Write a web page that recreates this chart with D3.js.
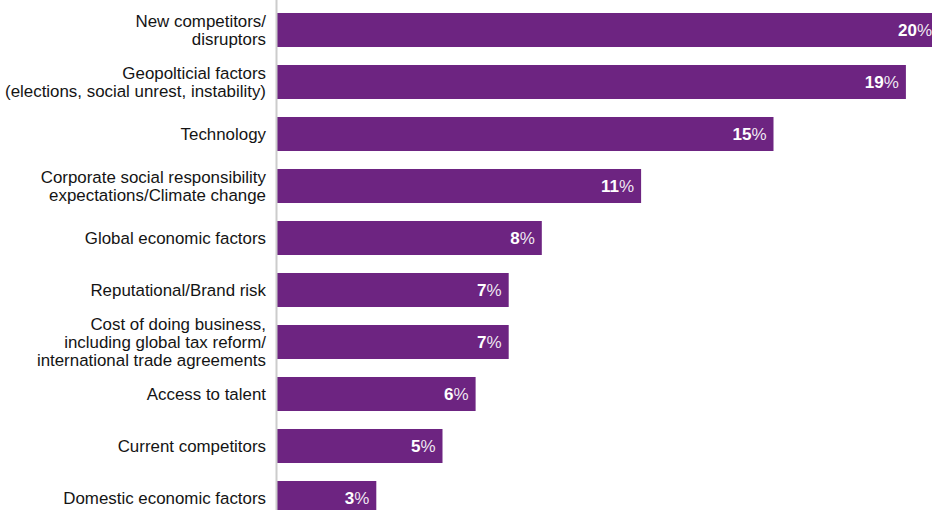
<!DOCTYPE html>
<html>
<head>
<meta charset="utf-8">
<script src="https://cdn.jsdelivr.net/npm/d3@7"></script>
<style>
  html, body { margin: 0; padding: 0; background: #fff; }
  svg { display: block; }
</style>
</head>
<body>
<svg id="chart" width="932" height="510"></svg>
<script>
// Category labels (line breaks marked with "\n")
const categories = [
  "New competitors/\ndisruptors",
  "Geopolticial factors\n(elections, social unrest, instability)",
  "Technology",
  "Corporate social responsibility\nexpectations/Climate change",
  "Global economic factors",
  "Reputational/Brand risk",
  "Cost of doing business,\nincluding global tax reform/\ninternational trade agreements",
  "Access to talent",
  "Current competitors",
  "Domestic economic factors"
];
// Share of respondents, percent
const values = [20, 19, 15, 11, 8, 7, 7, 6, 5, 3];

const width = 932, height = 510;
const svg = d3.select("#chart");

const x = d3.scaleLinear().domain([0, 20]).range([277, 939]);
const y = d3.scaleBand()
  .domain(d3.range(categories.length))
  .range([4, 524])
  .paddingInner(0.346)
  .paddingOuter(0.173);

const data = categories.map((c, i) => ({ label: c, value: values[i], i }));

// Bars
svg.append("g")
  .selectAll("rect")
  .data(data)
  .join("rect")
  .attr("x", x(0))
  .attr("y", d => y(d.i))
  .attr("width", d => x(d.value) - x(0))
  .attr("height", y.bandwidth())
  .attr("fill", "#6d2481");

// Vertical baseline
svg.append("line")
  .attr("x1", x(0) - 0.5).attr("x2", x(0) - 0.5)
  .attr("y1", 0).attr("y2", height)
  .attr("stroke", "#cccccc")
  .attr("stroke-width", 2);

// Category labels
const lineH = 18;
const labels = svg.append("g")
  .attr("font-family", "'Liberation Sans', Arial, sans-serif")
  .attr("font-size", 16.9)
  .attr("fill", "#141414")
  .attr("text-anchor", "end")
  .selectAll("text")
  .data(data)
  .join("text")
  .attr("x", 266)
  .attr("y", d => y(d.i) + y.bandwidth() / 2);

labels.each(function(d) {
  const lines = d.label.split("\n");
  const t = d3.select(this);
  const off = -(lines.length - 1) / 2 * lineH;
  lines.forEach((ln, k) => {
    t.append("tspan")
      .attr("x", 266)
      .attr("y", y(d.i) + y.bandwidth() / 2 + off + k * lineH)
      .attr("dy", "0.35em")
      .text(ln);
  });
});

// Value labels inside bar ends
const vals = svg.append("g")
  .attr("font-family", "'Liberation Sans', Arial, sans-serif")
  .attr("font-size", 17)
  .attr("fill", "#ffffff")
  .attr("text-anchor", "end")
  .selectAll("text")
  .data(data)
  .join("text")
  .attr("x", d => Math.min(x(d.value), width + 7) - 7)
  .attr("y", d => y(d.i) + y.bandwidth() / 2)
  .attr("dy", "0.35em");

vals.append("tspan").attr("font-weight", "bold").text(d => d.value);
vals.append("tspan").attr("font-weight", "normal").attr("fill-opacity", 0.9).text("%");
</script>
</body>
</html>
